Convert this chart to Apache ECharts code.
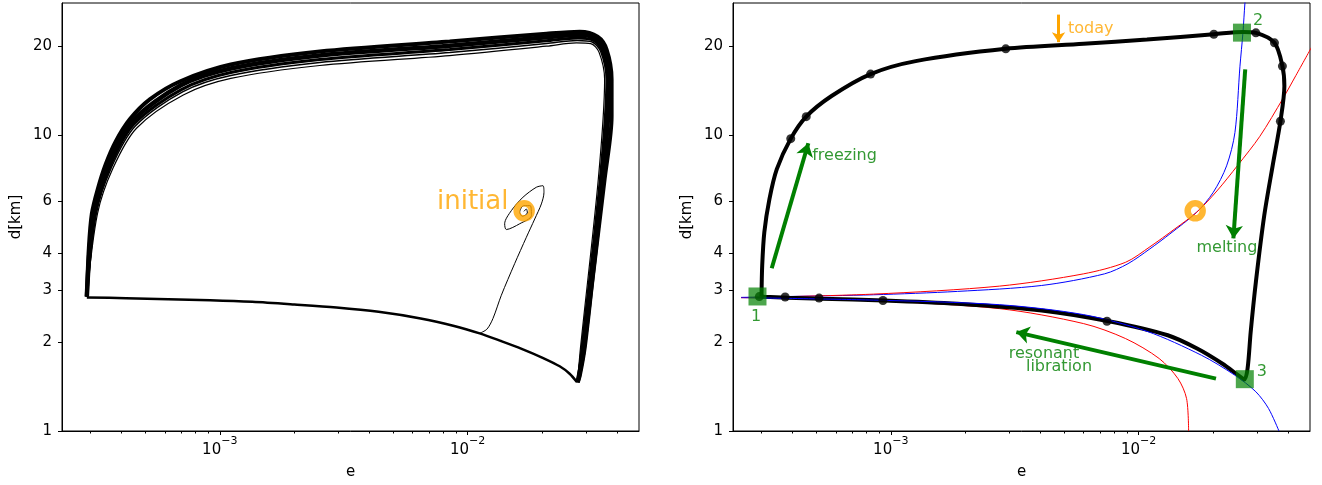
<!DOCTYPE html>
<html>
<head>
<meta charset="utf-8">
<title>e - d cycle</title>
<script src="https://cdn.jsdelivr.net/npm/echarts@6/dist/echarts.min.js"></script>
<style>
  html, body { margin: 0; padding: 0; background: #fff; }
  #chart { width: 1322px; height: 485px; }
</style>
</head>
<body>
<div id="chart"></div>
<script>
// axes
const xMin = 2.31e-4
const xMax = 4.91e-2
const yMin = 1
const yMax = 28
const xMajorTicks = [1e-3, 1e-2]
const xMinorTicks = [3e-4, 4e-4, 5e-4, 6e-4, 7e-4, 8e-4, 9e-4, 2e-3, 3e-3, 4e-3, 5e-3, 6e-3, 7e-3, 8e-3, 9e-3, 2e-2, 3e-2, 4e-2]
const yTicks = [1, 2, 3, 4, 6, 10, 20]

// left panel: bundle of loops, upper arcs [e, d]
const bandOuter = [[2.909e-4, 2.848], [2.963e-4, 4.132], [3.047e-4, 5.420], [3.221e-4, 6.58], [3.47e-4, 7.99], [3.81e-4, 9.546], [4.335e-4, 11.32], [5.22e-4, 13.22], [6.90e-4, 15.20], [1.108e-3, 17.34], [2.53e-3, 19.18], [8.46e-3, 20.73], [2.08e-2, 22.05], [2.83e-2, 22.39], [3.343e-2, 21.54], [3.635e-2, 19.48], [3.807e-2, 15.44], [3.807e-2, 11.59], [3.568e-2, 7.11], [3.192e-2, 3.275], [2.963e-2, 1.904], [2.83e-2, 1.532], [2.777e-2, 1.462]]
const band2 = [[2.909e-4, 2.848], [3.093e-4, 5.420], [3.535e-4, 7.91], [4.413e-4, 11.09], [6.965e-4, 14.75], [1.108e-3, 16.81], [2.53e-3, 18.60], [8.46e-3, 20.09], [2.08e-2, 21.45], [2.80e-2, 21.85], [3.281e-2, 21.21], [3.560e-2, 19.27], [3.738e-2, 15.44], [3.509e-2, 7.11], [2.941e-2, 1.904], [2.777e-2, 1.462]]
const band3 = [[2.909e-4, 2.848], [3.14e-4, 5.420], [3.605e-4, 7.84], [4.49e-4, 10.88], [7.03e-4, 14.30], [1.108e-3, 16.30], [2.53e-3, 18.03], [8.46e-3, 19.48], [2.08e-2, 20.86], [2.78e-2, 21.31], [3.225e-2, 20.91], [3.492e-2, 19.27], [3.669e-2, 15.44], [3.45e-2, 7.11], [2.898e-2, 1.904], [2.777e-2, 1.462]]
const band4 = [[2.909e-4, 2.848], [3.175e-4, 5.42], [3.655e-4, 7.785], [4.556e-4, 10.72], [7.08e-4, 14.02], [1.108e-3, 15.92], [2.53e-3, 17.61], [8.46e-3, 19.03], [2.08e-2, 20.42], [2.762e-2, 20.92], [3.18e-2, 20.66], [3.44e-2, 19.18], [3.618e-2, 15.44], [3.405e-2, 7.11], [2.874e-2, 1.904], [2.777e-2, 1.462]]
const band5 = [[2.909e-4, 2.848], [3.21e-4, 5.42], [3.707e-4, 7.73], [4.615e-4, 10.56], [7.125e-4, 13.68], [1.108e-3, 15.56], [2.53e-3, 17.21], [8.46e-3, 18.60], [2.08e-2, 20.0], [2.741e-2, 20.53], [3.136e-2, 20.42], [3.386e-2, 19.10], [3.568e-2, 15.44], [3.365e-2, 7.11], [2.85e-2, 1.904], [2.777e-2, 1.462]]
const bandBottom = [[2.762e-2, 1.462], [2.578e-2, 1.562], [2.35e-2, 1.655], [2.006e-2, 1.768], [1.651e-2, 1.896], [1.358e-2, 2.017], [1.118e-2, 2.138], [8.82e-3, 2.266], [6.46e-3, 2.402], [4.37e-3, 2.529], [2.956e-3, 2.615], [2.0e-3, 2.677], [1.352e-3, 2.733], [9.15e-4, 2.768], [6.19e-4, 2.79], [4.19e-4, 2.811], [2.909e-4, 2.83]]
const spiral = [[1.686e-2, 5.53], [1.725e-2, 5.63], [1.741e-2, 5.46], [1.662e-2, 5.32], [1.621e-2, 5.49], [1.682e-2, 5.78], [1.790e-2, 5.78], [1.807e-2, 5.35], [1.621e-2, 5.02], [1.432e-2, 4.80], [1.410e-2, 5.02], [1.50e-2, 5.56], [1.671e-2, 6.17], [1.892e-2, 6.67], [2.012e-2, 6.75], [2.031e-2, 6.41], [1.983e-2, 5.86], [1.864e-2, 5.21], [1.725e-2, 4.52], [1.547e-2, 3.68], [1.367e-2, 2.877], [1.265e-2, 2.402], [1.196e-2, 2.21], [1.118e-2, 2.14]]
const initialPoint = [1.69e-2, 5.55]
const initialLabelAt = [1.048e-2, 5.95]

// right panel
const cycle = [[3.01e-4, 2.85], [3.03e-4, 3.63], [3.09e-4, 4.70], [3.24e-4, 6.08], [3.47e-4, 7.68], [3.95e-4, 9.74], [4.56e-4, 11.56], [5.77e-4, 13.57], [8.29e-4, 16.10], [1.26e-3, 17.81], [2.91e-3, 19.60], [6.0e-3, 20.37], [1.08e-2, 21.07], [2.01e-2, 21.96], [2.64e-2, 22.36], [2.97e-2, 22.19], [3.53e-2, 20.53], [3.80e-2, 17.13], [3.87e-2, 14.67], [3.73e-2, 11.15], [3.47e-2, 7.88], [3.21e-2, 5.35], [2.97e-2, 3.19], [2.83e-2, 2.16], [2.75e-2, 1.626], [2.67e-2, 1.493], [2.54e-2, 1.537], [2.17e-2, 1.691], [1.72e-2, 1.90], [1.31e-2, 2.107], [7.58e-3, 2.35], [4.06e-3, 2.557], [1.86e-3, 2.693], [9.39e-4, 2.764], [5.27e-4, 2.80], [3.84e-4, 2.822], [3.09e-4, 2.844], [3.01e-4, 2.85]]
const cycleDots = [[3.95e-4, 9.74], [4.56e-4, 11.56], [8.29e-4, 16.10], [2.91e-3, 19.60], [2.01e-2, 21.96], [2.97e-2, 22.19], [3.53e-2, 20.53], [3.80e-2, 17.13], [3.73e-2, 11.15], [7.45e-3, 2.35], [9.3e-4, 2.762], [5.14e-4, 2.815], [3.75e-4, 2.838], [2.95e-4, 2.848]]
const blueUpper = [[2.49e-4, 2.83], [3.90e-4, 2.85], [8.52e-4, 2.888], [1.86e-3, 2.965], [4.06e-3, 3.105], [7.29e-3, 3.40], [9.06e-3, 3.68], [1.11e-2, 4.13], [1.337e-2, 4.64], [1.713e-2, 5.49], [1.999e-2, 6.41], [2.263e-2, 7.88], [2.445e-2, 10.21], [2.562e-2, 17.12], [2.634e-2, 22.23], [2.683e-2, 27.98], [2.708e-2, 29.8]]
const blueLower = [[2.49e-4, 2.825], [8.52e-4, 2.771], [2.75e-3, 2.673], [6.0e-3, 2.474], [1.08e-2, 2.173], [1.79e-2, 1.804], [2.44e-2, 1.545], [2.97e-2, 1.357], [3.34e-2, 1.192], [3.68e-2, 1.0]]
const redUpper = [[2.49e-4, 2.825], [8.52e-4, 2.903], [2.75e-3, 3.09], [6.0e-3, 3.40], [8.86e-3, 3.72], [1.11e-2, 4.196], [1.40e-2, 4.826], [1.713e-2, 5.49], [2.068e-2, 6.48], [2.514e-2, 7.93], [3.083e-2, 9.92], [3.82e-2, 13.32], [4.306e-2, 15.92], [4.998e-2, 19.94]]
const redLower = [[2.49e-4, 2.825], [8.52e-4, 2.757], [2.75e-3, 2.592], [6.0e-3, 2.307], [8.86e-3, 2.053], [1.21e-2, 1.758], [1.44e-2, 1.504], [1.56e-2, 1.288], [1.59e-2, 1.0]]
const stages = [[2.9e-4, 2.85], [2.61e-2, 22.23], [2.68e-2, 1.497]]
const stageNames = ['1', '2', '3']
const stageLabelAt = [[2.86e-4, 2.44], [3.03e-2, 24.39], [3.14e-2, 1.58]]
const todayArrow = [[4.75e-3, 25.58], [4.75e-3, 20.64]]
const freezingArrow = [[3.31e-4, 3.55], [4.65e-4, 9.40]]
const meltingArrow = [[2.69e-2, 16.69], [2.41e-2, 4.48]]
const librationArrow = [[2.05e-2, 1.504], [3.21e-3, 2.16]]
const notes = ['today', 'freezing', 'melting', 'resonant', 'libration']
const noteAt = [[5.19e-3, 22.93], [4.82e-4, 8.50], [2.27e-2, 4.16], [4.15e-3, 1.83], [4.77e-3, 1.643]]

const font = 'DejaVu Sans'
const green = '#008000'
const orange = '#ffa500'

function xAxes(gridIndex) {
  return [{
    type: 'log', logBase: 10, gridIndex, min: xMin, max: xMax, position: 'bottom',
    name: 'e', nameLocation: 'middle', nameGap: 34,
    nameTextStyle: { fontFamily: font, fontSize: 15, color: '#000' },
    axisLine: { lineStyle: { color: '#000', width: 1 } },
    axisTick: { customValues: xMajorTicks, length: 4, lineStyle: { color: '#000' } },
    axisLabel: {
      customValues: xMajorTicks, margin: 5, color: '#000',
      formatter: v => '{b|10}{s|\u2212' + Math.round(-Math.log10(v)) + '}',
      rich: {
        b: { fontFamily: font, fontSize: 15, color: '#000', verticalAlign: 'bottom', lineHeight: 22 },
        s: { fontFamily: font, fontSize: 11, color: '#000', verticalAlign: 'top', lineHeight: 22 }
      }
    },
    splitLine: { show: false }
  }, {
    type: 'log', logBase: 10, gridIndex, min: xMin, max: xMax, position: 'bottom',
    axisLine: { show: false },
    axisTick: { customValues: xMinorTicks, length: 2.5, lineStyle: { color: '#000' } },
    axisLabel: { show: false, customValues: xMinorTicks },
    splitLine: { show: false }
  }]
}

function yAxis(gridIndex) {
  return {
    type: 'log', logBase: 10, gridIndex, min: yMin, max: yMax,
    name: 'd[km]', nameLocation: 'middle', nameGap: 38, nameRotate: 90,
    nameTextStyle: { fontFamily: font, fontSize: 15, color: '#000' },
    axisLine: { lineStyle: { color: '#000', width: 1 } },
    axisTick: { customValues: yTicks, length: 4, lineStyle: { color: '#000' } },
    axisLabel: { customValues: yTicks, margin: 10, fontFamily: font, fontSize: 15, color: '#000' },
    splitLine: { show: false }
  }
}

function curve(data, xi, yi, color, width) {
  return {
    type: 'line', data, xAxisIndex: xi, yAxisIndex: yi,
    showSymbol: false, symbol: 'none', smooth: 0.3,
    lineStyle: { color, width }, z: 2, silent: true
  }
}

function arrow(pts, xi, yi, color, width, head) {
  return {
    type: 'line', data: [], xAxisIndex: xi, yAxisIndex: yi, silent: true,
    markLine: {
      silent: true, animation: false,
      symbol: ['none', 'arrow'], symbolSize: head,
      label: { show: false },
      lineStyle: { color, width, type: 'solid', opacity: 1 },
      itemStyle: { color },
      data: [[{ coord: pts[0] }, { coord: pts[1] }]]
    }
  }
}

function textAt(pos, text, xi, yi, color, size, position) {
  return {
    type: 'scatter', data: [pos], xAxisIndex: xi, yAxisIndex: yi,
    symbolSize: 0, silent: true, z: 6,
    label: { show: true, formatter: text, position, distance: 0, color, fontFamily: font, fontSize: size }
  }
}

function ring(xi, yi) {
  return {
    type: 'scatter', data: [initialPoint], xAxisIndex: xi, yAxisIndex: yi, z: 3,
    symbol: 'circle', symbolSize: 15, silent: true,
    itemStyle: { color: 'rgba(0,0,0,0)', borderColor: orange, borderWidth: 6.5 }
  }
}

const chart = echarts.init(document.getElementById('chart'))

chart.setOption({
  animation: false,
  backgroundColor: '#fff',
  grid: [
    { left: 62, top: 3, width: 577, height: 430, show: true, borderColor: '#000', borderWidth: 1 },
    { left: 733, top: 3, width: 577, height: 430, show: true, borderColor: '#000', borderWidth: 1 }
  ],
  xAxis: [...xAxes(0), ...xAxes(1)],
  yAxis: [yAxis(0), yAxis(1)],
  series: [
    // left panel
    curve(bandOuter, 0, 0, '#000', 4),
    curve(band2, 0, 0, '#000', 4.5),
    curve(band3, 0, 0, '#000', 3),
    curve(band4, 0, 0, '#000', 1.5),
    curve(band5, 0, 0, '#000', 1.2),
    curve(bandBottom, 0, 0, '#000', 2.5),
    ring(0, 0),
    curve(spiral, 0, 0, '#000', 1),
    textAt(initialLabelAt, 'initial', 0, 0, orange, 26, 'inside'),

    // right panel
    curve(blueUpper, 2, 1, '#0000ff', 1),
    curve(redUpper, 2, 1, '#ff0000', 1),
    curve(redLower, 2, 1, '#ff0000', 1),
    curve(cycle, 2, 1, '#000', 4),
    curve(blueLower, 2, 1, '#0000ff', 1),
    {
      type: 'scatter', data: cycleDots, xAxisIndex: 2, yAxisIndex: 1, z: 4,
      symbolSize: 9, silent: true, itemStyle: { color: '#000' }
    },
    {
      type: 'scatter', data: stages, xAxisIndex: 2, yAxisIndex: 1, z: 5,
      symbol: 'rect', symbolSize: 18, silent: true, itemStyle: { color: green, opacity: 0.7 }
    },
    ring(2, 1),
    ...stageLabelAt.map((p, i) => textAt(p, stageNames[i], 2, 1, green, 16, 'inside')),
    arrow(todayArrow, 2, 1, orange, 3, 10),
    arrow(freezingArrow, 2, 1, green, 4, 13),
    arrow(meltingArrow, 2, 1, green, 4, 13),
    arrow(librationArrow, 2, 1, green, 4, 13),
    textAt(noteAt[0], notes[0], 2, 1, orange, 16, 'right'),
    textAt(noteAt[1], notes[1], 2, 1, green, 16, 'right'),
    textAt(noteAt[2], notes[2], 2, 1, green, 16, 'inside'),
    textAt(noteAt[3], notes[3], 2, 1, green, 16, 'inside'),
    textAt(noteAt[4], notes[4], 2, 1, green, 16, 'inside')
  ]
})
</script>
</body>
</html>
